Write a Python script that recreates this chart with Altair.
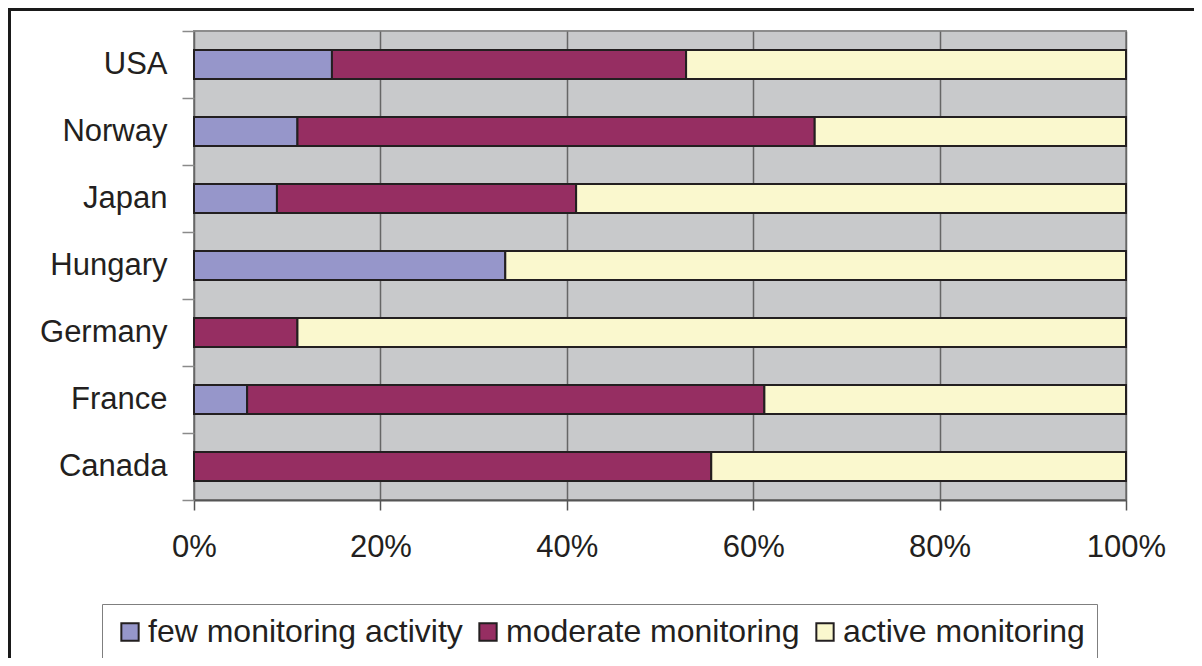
import altair as alt
import pandas as pd

countries = ["USA", "Norway", "Japan", "Hungary", "Germany", "France", "Canada"]
few = [14.8, 11.1, 8.9, 33.4, 0.0, 5.7, 0.0]
moderate = [38.0, 55.5, 32.1, 0.0, 11.1, 55.5, 55.5]
active = [47.2, 33.4, 59.0, 66.6, 88.9, 38.8, 44.5]
series = ["few monitoring activity", "moderate monitoring", "active monitoring"]
colors = ["#9696CA", "#962E62", "#FAF8CE"]
x_ticks = [0, 0.2, 0.4, 0.6, 0.8, 1.0]

rows = []
for i, c in enumerate(countries):
    for j, vals in enumerate([few, moderate, active]):
        if vals[i] > 0:
            rows.append({"country": c, "level": series[j], "share": vals[i], "order": j})
df = pd.DataFrame(rows)

FONT = "Liberation Sans"
TXT = "#231F20"

bars = alt.Chart(df).mark_bar(size=29, stroke=TXT, strokeWidth=2, strokeOpacity=1).encode(
    y=alt.Y(
        "country:N",
        sort=countries,
        scale=alt.Scale(paddingInner=0, paddingOuter=0),
        axis=alt.Axis(
            title=None, tickBand="extent", tickSize=12, tickColor="#8a8a8a", tickWidth=1.5,
            domain=False, grid=False, labelFont=FONT, labelFontSize=31, labelColor=TXT,
            labelPadding=15,
        ),
    ),
    x=alt.X(
        "share:Q",
        stack="normalize",
        scale=alt.Scale(domain=[0, 1], nice=False),
        axis=alt.Axis(
            title=None, format=".0%", values=x_ticks, grid=True, gridColor="#666666",
            gridWidth=1.5, tickSize=10, tickColor="#555555", tickWidth=1.5,
            domainColor="#555555", domainWidth=2, labelFont=FONT, labelFontSize=31,
            labelColor=TXT, labelPadding=22, labelFlush=False, labelOverlap=False,
        ),
    ),
    color=alt.Color(
        "level:N",
        scale=alt.Scale(domain=series, range=colors),
        legend=alt.Legend(
            title=None, orient="none", legendX=-92, legendY=573, direction="horizontal",
            symbolType="square", symbolSize=300, symbolStrokeColor=TXT,
            symbolStrokeWidth=2, symbolOpacity=1, labelFont=FONT, labelFontSize=32,
            labelColor=TXT, labelLimit=600, strokeColor="#7f7f7f", fillColor="white",
            padding=12, columnPadding=9, labelOffset=2,
        ),
    ),
    order=alt.Order("order:Q"),
)

frame = alt.Chart(pd.DataFrame({"f": [0]})).mark_rect(
    filled=False, stroke="#1a1a1a", strokeWidth=3
).encode(
    x=alt.value(-184.5), x2=alt.value(1200), y=alt.value(-21.5), y2=alt.value(800)
)

chart = alt.layer(bars, frame).properties(
    width=932,
    height=469,
    padding={"left": 186, "top": 23, "right": 68, "bottom": 158},
    autosize=alt.AutoSizeParams(type="none"),
    background="white",
).configure_view(
    stroke="#8c8c8c", strokeWidth=2, fill="#C8C9CB"
)

chart.save("out.html", embed_options={"renderer": "svg", "actions": False})
